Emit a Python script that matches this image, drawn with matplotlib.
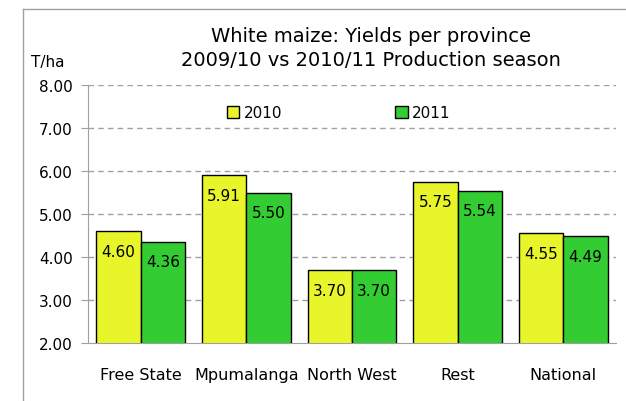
import numpy as np
import matplotlib.pyplot as plt
from matplotlib.lines import Line2D

# Datos
provincias = ["Free State", "Mpumalanga", "North West", "Rest", "National"]
y2010 = [4.60, 5.91, 3.70, 5.75, 4.55]
y2011 = [4.36, 5.50, 3.70, 5.54, 4.49]
series = ["2010", "2011"]
yticks = [2, 3, 4, 5, 6, 7, 8]

amarillo = "#E9F52B"
verde = "#33CC33"
gris = "#A0A0A0"

plt.rcParams["font.family"] = "DejaVu Sans"

fig = plt.figure(figsize=(6.26, 4.02), dpi=100)
ax = fig.add_axes([88 / 626, 58 / 402, 528 / 626, 258 / 402])

x = np.arange(len(provincias))
w = 0.42
b1 = ax.bar(x - w / 2, y2010, w, bottom=0, color=amarillo, edgecolor="black",
            linewidth=1, label=series[0], zorder=3)
b2 = ax.bar(x + w / 2, y2011, w, bottom=0, color=verde, edgecolor="black",
            linewidth=1, label=series[1], zorder=3)

for barras, vals in [(b1, y2010), (b2, y2011)]:
    for r, v in zip(barras, vals):
        ax.annotate("%.2f" % v, (r.get_x() + r.get_width() / 2, v),
                    xytext=(0, -14.5), textcoords="offset points",
                    ha="center", va="center", fontsize=11, zorder=4)

ax.set_ylim(2, 8)
ax.set_xlim(-0.5, len(provincias) - 0.5)
ax.set_yticks(yticks)
ax.set_yticklabels(["%.2f" % t for t in yticks], fontsize=11)
ax.set_xticks(x)
ax.set_xticklabels(provincias, fontsize=11.5)
ax.tick_params(axis="x", length=0, pad=17)
ax.tick_params(axis="y", length=5, color=gris, pad=6)

for t in yticks[1:]:
    ax.axhline(t, color=gris, linestyle=(0, (4, 3)), linewidth=1, zorder=1)

for s in ["top", "right"]:
    ax.spines[s].set_visible(False)
for s in ["left", "bottom"]:
    ax.spines[s].set_color(gris)

ax.legend(loc="upper center", bbox_to_anchor=(0.475, 0.975), ncol=2, frameon=False,
          fontsize=11, handlelength=0.8, handleheight=0.8, handletextpad=0.3,
          columnspacing=7.4)

xt = (182 + 560) / 2 / 626
fig.text(xt, 1 - 36 / 402, "White maize: Yields per province", ha="center",
         va="center", fontsize=14)
fig.text(xt, 1 - 61 / 402, "2009/10 vs 2010/11 Production season",
         ha="center", va="center", fontsize=14)
fig.text(48 / 626, 1 - 62 / 402, "T/ha", ha="center", va="center", fontsize=11)

# Marco
fig.add_artist(Line2D([23 / 626, 23 / 626], [0, 1 - 10 / 402], color=gris,
                      linewidth=1, transform=fig.transFigure))
fig.add_artist(Line2D([23 / 626, 1], [1 - 10 / 402, 1 - 10 / 402], color=gris,
                      linewidth=1, transform=fig.transFigure))

fig.savefig("out.png", dpi=100, facecolor="white")
